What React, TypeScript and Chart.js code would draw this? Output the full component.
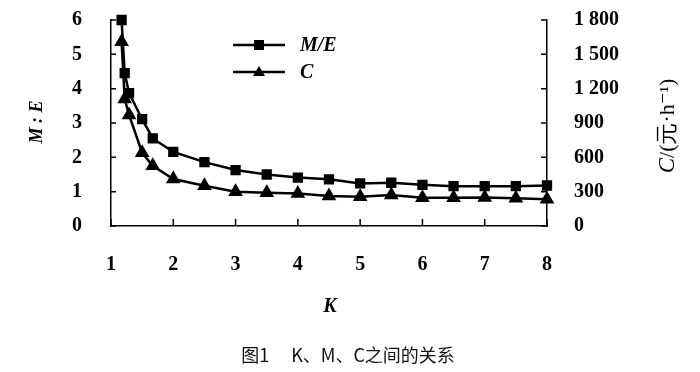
import React, { useEffect, useRef } from "react";
import { Chart, registerables } from "chart.js";

Chart.register(...registerables);

const kValues = [1.17, 1.22, 1.29, 1.5, 1.67, 2, 2.5, 3, 3.5, 4, 4.5, 5, 5.5, 6, 6.5, 7, 7.5, 8];
const meValues = [6.0, 4.45, 3.87, 3.11, 2.55, 2.16, 1.86, 1.63, 1.5, 1.41, 1.36, 1.24, 1.26, 1.2, 1.16, 1.16, 1.16, 1.18];
const cValues = [1611, 1110, 970, 640, 527, 411, 352, 300, 291, 283, 262, 256, 271, 247, 247, 250, 242, 233];
const seriesNames = ["M/E", "C"];
const xTitle = "K";
const yLeftTitle = "M : E";
const yRightTitleItalic = "C";
const yRightTitleRest = "/(元·h⁻¹)";
const caption = "图1\u3000 K、M、C之间的关系";

const SERIF = "'Liberation Serif', 'DejaVu Serif', serif";

const decorPlugin = {
  id: "decor",
  afterDraw(chart: any) {
    const ctx = chart.ctx;
    const { left, right, bottom } = chart.chartArea;
    const xs = chart.scales.x;
    const yl = chart.scales.y;
    const yr = chart.scales.y1;
    ctx.save();
    ctx.strokeStyle = "#000";
    ctx.lineWidth = 1.5;
    // inward ticks
    ctx.beginPath();
    for (let v = 1; v <= 8; v++) {
      const px = xs.getPixelForValue(v);
      ctx.moveTo(px, bottom);
      ctx.lineTo(px, bottom - 7);
    }
    for (let v = 0; v <= 6; v++) {
      const py = yl.getPixelForValue(v);
      ctx.moveTo(left, py);
      ctx.lineTo(left + 5, py);
    }
    for (let v = 0; v <= 1800; v += 300) {
      const py = yr.getPixelForValue(v);
      ctx.moveTo(right, py);
      ctx.lineTo(right - 6, py);
    }
    ctx.stroke();

    // legend
    const lx0 = 233, lx1 = 285, mx = 259;
    const rows = [45, 72];
    ctx.lineWidth = 2.5;
    rows.forEach((ry) => {
      ctx.beginPath();
      ctx.moveTo(lx0, ry);
      ctx.lineTo(lx1, ry);
      ctx.stroke();
    });
    ctx.fillStyle = "#000";
    ctx.fillRect(mx - 5, rows[0] - 5, 10, 10);
    ctx.beginPath();
    ctx.moveTo(mx, rows[1] - 6);
    ctx.lineTo(mx + 6, rows[1] + 4);
    ctx.lineTo(mx - 6, rows[1] + 4);
    ctx.closePath();
    ctx.fill();
    ctx.font = `italic bold 20px ${SERIF}`;
    ctx.textAlign = "left";
    ctx.textBaseline = "middle";
    ctx.fillText(seriesNames[0], 300, rows[0] + 1);
    ctx.fillText(seriesNames[1], 300, rows[1] + 1);

    // axis titles
    ctx.textAlign = "center";
    ctx.font = `italic bold 20px ${SERIF}`;
    ctx.fillText(xTitle, 330, 307);

    ctx.save();
    ctx.translate(37, 122);
    ctx.rotate(-Math.PI / 2);
    ctx.font = `italic bold 18px ${SERIF}`;
    ctx.fillText(yLeftTitle, 0, 0);
    ctx.restore();

    ctx.save();
    ctx.translate(668, 126);
    ctx.rotate(-Math.PI / 2);
    const fItal = `italic 23px ${SERIF}`;
    const fReg = `22px ${SERIF}`;
    ctx.font = fItal;
    const w1 = ctx.measureText(yRightTitleItalic).width;
    ctx.font = fReg;
    const w2 = ctx.measureText(yRightTitleRest).width;
    const start = -(w1 + w2) / 2;
    ctx.textAlign = "left";
    ctx.font = fItal;
    ctx.fillText(yRightTitleItalic, start, 0);
    ctx.font = fReg;
    ctx.fillText(yRightTitleRest, start + w1, 0);
    ctx.restore();

    // caption
    ctx.textAlign = "center";
    ctx.font = "18px 'Noto Sans CJK SC', 'Noto Sans', sans-serif";
    ctx.fillStyle = "#111";
    ctx.fillText(caption, 348, 355);
    ctx.restore();
  },
};

export default function App() {
  const ref = useRef<HTMLCanvasElement>(null);
  useEffect(() => {
    if (!ref.current) return;
    const tickFont = { family: SERIF, size: 20, weight: "bold" as const };
    const chart = new Chart(ref.current, {
      type: "line",
      data: {
        datasets: [
          {
            label: seriesNames[0],
            data: kValues.map((k, i) => ({ x: k, y: meValues[i] })),
            borderColor: "#000",
            backgroundColor: "#000",
            borderWidth: 2.5,
            pointStyle: "rect",
            pointRadius: 5.5,
            yAxisID: "y",
            clip: false,
          },
          {
            label: seriesNames[1],
            data: kValues.map((k, i) => ({ x: k, y: cValues[i] })),
            borderColor: "#000",
            backgroundColor: "#000",
            borderWidth: 2.5,
            pointStyle: "triangle",
            pointRadius: 6,
            yAxisID: "y1",
            clip: false,
          },
        ],
      },
      options: {
        responsive: false,
        animation: false,
        layout: { padding: { top: 20, left: 0, right: 0, bottom: 0 } },
        plugins: { legend: { display: false }, tooltip: { enabled: false } },
        scales: {
          x: {
            type: "linear",
            min: 1,
            max: 8,
            grid: { display: false },
            border: { display: true, color: "#000", width: 1.5 },
            ticks: { stepSize: 1, color: "#000", font: tickFont, padding: 19 },
            afterFit: (s: any) => {
              s.height = 146;
              s.paddingLeft = 0;
              s.paddingRight = 0;
            },
          },
          y: {
            position: "left",
            min: 0,
            max: 6,
            grid: { display: false },
            border: { display: true, color: "#000", width: 1.5 },
            ticks: { stepSize: 1, color: "#000", font: tickFont, padding: 21 },
            afterFit: (s: any) => {
              s.width = 111;
              s.paddingTop = 0;
              s.paddingBottom = 0;
            },
          },
          y1: {
            position: "right",
            min: 0,
            max: 1800,
            grid: { display: false },
            border: { display: true, color: "#000", width: 1.5 },
            ticks: {
              stepSize: 300,
              color: "#000",
              font: tickFont,
              padding: 19,
              callback: (v: any) => {
                const n = Number(v);
                return n >= 1000 ? `${Math.floor(n / 1000)} ${String(n % 1000).padStart(3, "0")}` : String(n);
              },
            },
            afterFit: (s: any) => {
              s.width = 153;
              s.paddingTop = 0;
              s.paddingBottom = 0;
            },
          },
        },
      },
      plugins: [decorPlugin],
    });
    return () => chart.destroy();
  }, []);
  return (
    <div style={{ position: "absolute", left: 0, top: 0, width: 700, height: 372, background: "#fff" }}>
      <canvas ref={ref} width={700} height={372} style={{ display: "block", width: 700, height: 372 }} />
    </div>
  );
}
